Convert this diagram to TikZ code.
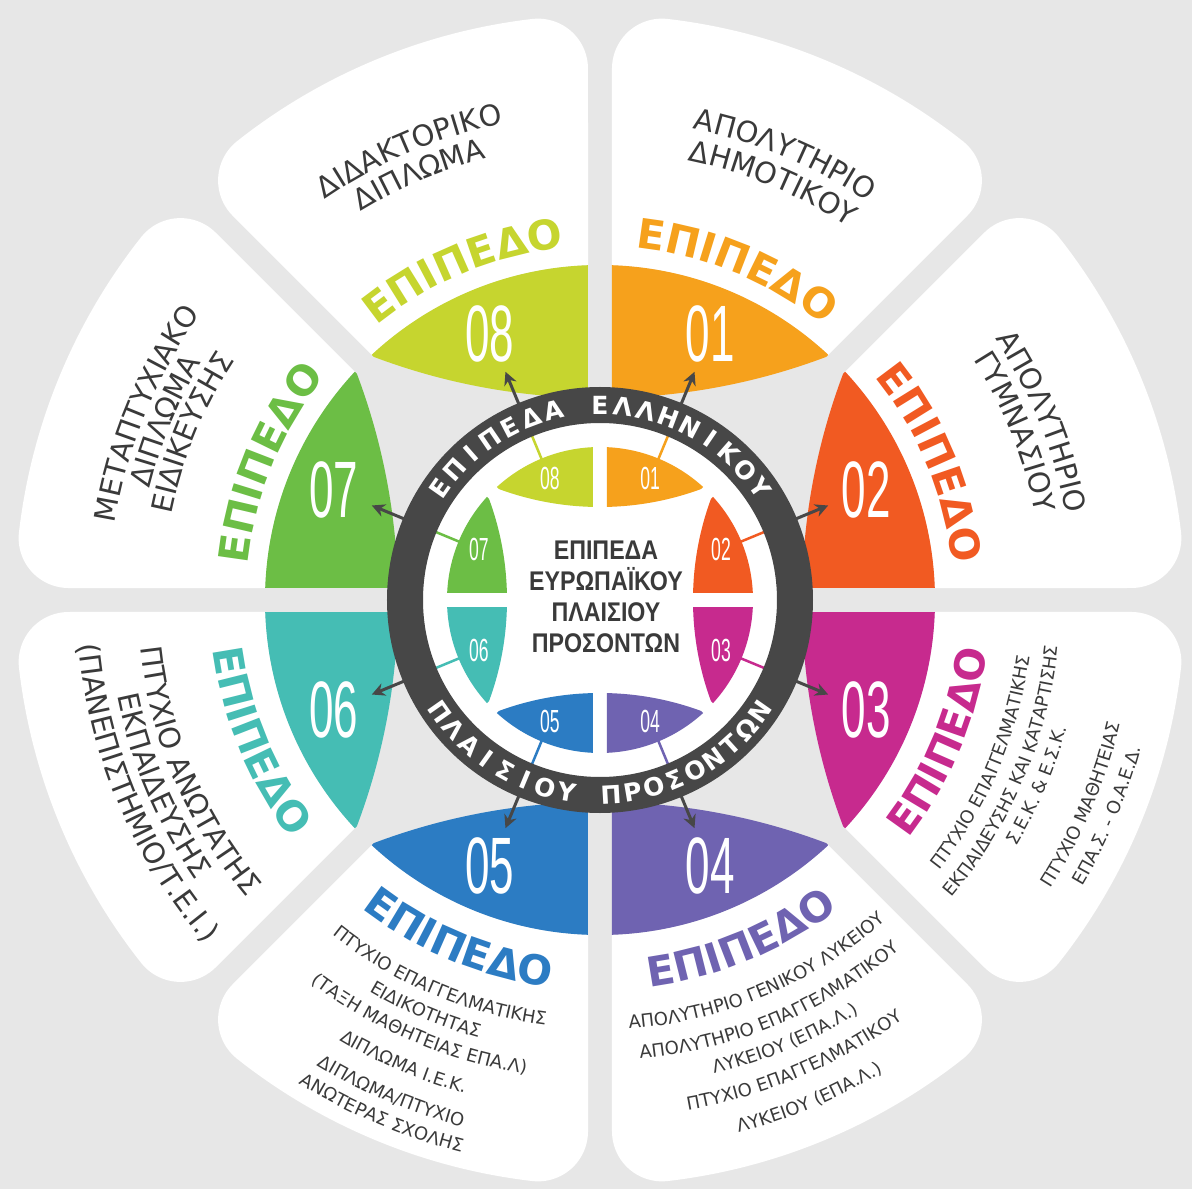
\documentclass[tikz,border=0pt]{standalone}
\usepackage{fontspec}
\setmainfont{DejaVu Sans}
\newfontfamily\numfont[FakeStretch=0.55]{Liberation Sans}
\newfontfamily\ctrfont[FakeStretch=0.86]{Liberation Sans}
\usetikzlibrary{calc,arrows.meta,decorations.text}

\definecolor{bg}{HTML}{E7E7E7}
\definecolor{ringc}{HTML}{474747}
\definecolor{desc}{HTML}{3A3A3A}
\definecolor{c01}{HTML}{F6A11C}
\definecolor{c02}{HTML}{F15A22}
\definecolor{c03}{HTML}{C72A8E}
\definecolor{c04}{HTML}{6F63B1}
\definecolor{c05}{HTML}{2C7CC3}
\definecolor{c06}{HTML}{45BDB4}
\definecolor{c07}{HTML}{6CBE45}
\definecolor{c08}{HTML}{C6D52F}

\newcommand{\descbig}{\fontsize{29}{29}\selectfont\color{desc}}
\newcommand{\descsmall}{\fontsize{18}{18}\selectfont\color{desc}}
\newcommand{\lvlfont}{\bfseries\fontsize{41}{41}\selectfont}

\newcommand{\toptext}[4]{%
  \path[decorate, decoration={text along path, text align=center,
    text={|#3|#4}}] ({#1+40}:#2) arc[start angle={#1+40}, end angle={#1-40}, radius=#2];}
\newcommand{\bottext}[4]{%
  \path[decorate, decoration={text along path, text align=center,
    text={|#3|#4}}] ({#1-40}:#2) arc[start angle={#1-40}, end angle={#1+40}, radius=#2];}

\tikzset{
  ringtxt/.style={text=white, inner sep=0, font=\bfseries\fontsize{25}{25}\selectfont},
  numbig/.style={text=white, inner sep=0, font=\numfont\fontsize{80}{80}\selectfont},
  numsmall/.style={text=white, inner sep=0, font=\numfont\fontsize{32}{32}\selectfont},
  arr/.style={draw=ringc, line width=3pt, -{Stealth[length=13pt,width=13pt]}},
  stub/.style={line width=2.5pt},
}

\begin{document}
\begin{tikzpicture}[x=1pt, y=1pt]
  \useasboundingbox (-600,-589) rectangle (592,600);
  \fill[bg] (-600,-589) rectangle (592,600);
  % white sectors and the big tabs
  \foreach \k/\col in {1/c01,2/c02,3/c03,4/c04,5/c05,6/c06,7/c07,8/c08} {
    \pgfmathsetmacro\ca{112.5-45*\k}
    \pgfmathsetmacro\tA{\ca-22.5}
    \pgfmathsetmacro\tB{\ca+22.5}
    \pgfmathsetmacro\ax{\ca+22.5*(2*mod(\k,2)-1)}
    \pgfmathsetmacro\phiA{\tA+asin(62/535)}
    \pgfmathsetmacro\psiB{\tB-asin(62/535)}
    \pgfmathsetmacro\sL{535*cos(asin(62/535))}
    \pgfmathsetmacro\inA{\tA+asin(12/335)}
    \pgfmathsetmacro\inB{\tB-asin(12/335)}
    \fill[white] (\inA:335) -- ($(\tA:\sL)+(\tA+90:12)$)
      arc[start angle=\tA-90, end angle=\phiA, radius=50]
      arc[start angle=\phiA, end angle=\psiB, radius=585]
      arc[start angle=\psiB, end angle=\tB+90, radius=50]
      -- (\inB:335) arc[start angle=\inB, end angle=\inA, radius=335] -- cycle;
    \begin{scope}
      \clip (\ca:{12/sin(22.5)}) -- ($(\tA:700)+(\tA+90:12)$) -- ($(\tB:700)+(\tB-90:12)$) -- cycle;
      \clip (\ax:842) circle (640);
      \fill[\col] (0,0) circle (335);
    \end{scope}
  }
  \fill[white] (0,0) circle (178);
  % small tabs, stubs and arrows
  \foreach \k/\col in {1/c01,2/c02,3/c03,4/c04,5/c05,6/c06,7/c07,8/c08} {
    \pgfmathsetmacro\ca{112.5-45*\k}
    \pgfmathsetmacro\ax{\ca+22.5*(2*mod(\k,2)-1)}
    \begin{scope}
      \clip (\ca:{7/sin(22.5)}) -- ($(\ca-22.5:200)+(\ca+67.5:7)$) -- ($(\ca+22.5:200)+(\ca-67.5:7)$) -- cycle;
      \clip (\ax:385) circle (292);
      \fill[\col] (0,0) circle (153);
    \end{scope}
    \coordinate (st-\k) at (\ca:140);
    \coordinate (rg-\k) at (\ca:186);
    \draw[stub, \col] (st-\k) -- (rg-\k);
    \coordinate (ra-\k) at (\ca:205);
    \coordinate (lv-\k) at (\ca:247);
    \draw[arr] (ra-\k) -- (lv-\k);
  }
  \draw[ringc, line width=36pt] (0,0) circle (195);
  \foreach \ch [count=\i] in {Ε,Π,Ι,Π,Ε,Δ,Α,{},Ε,Λ,Λ,Η,Ν,Ι,Κ,Ο,Υ} {
    \pgfmathsetmacro\ang{145-(\i-1)*110/16}
    \node[ringtxt, rotate=\ang-90] (rt-\i) at (\ang:195) {\ch};
  }
  \foreach \ch [count=\i] in {Π,Λ,Α,Ι,Σ,Ι,Ο,Υ,{},Π,Ρ,Ο,Σ,Ο,Ν,Τ,Ω,Ν} {
    \pgfmathsetmacro\ang{215+(\i-1)*110/17}
    \node[ringtxt, rotate=\ang+90] (rb-\i) at (\ang:195) {\ch};
  }
  \node[font=\ctrfont\bfseries\fontsize{27}{31}\selectfont, text=desc, align=center] (ctr) at (6,3)
    {ΕΠΙΠΕΔΑ\\ΕΥΡΩΠΑΪΚΟΥ\\ΠΛΑΙΣΙΟΥ\\ΠΡΟΣΟΝΤΩΝ};
  \foreach \k in {1,...,8} {
    \pgfmathsetmacro\ca{112.5-45*\k}
    \node[numbig] (nb-\k) at (\ca:288) {0\k};
    \node[numsmall] (ns-\k) at (\ca:131) {0\k};
  }
  % level labels
  \toptext{67.5}{354}{\lvlfont\color{c01}}{ΕΠΙΠΕΔΟ}
  \toptext{22.5}{354}{\lvlfont\color{c02}}{ΕΠΙΠΕΔΟ}
  \bottext{-22.5}{390}{\lvlfont\color{c03}}{ΕΠΙΠΕΔΟ}
  \bottext{-67.5}{390}{\lvlfont\color{c04}}{ΕΠΙΠΕΔΟ}
  \bottext{-112.5}{390}{\lvlfont\color{c05}}{ΕΠΙΠΕΔΟ}
  \bottext{-157.5}{390}{\lvlfont\color{c06}}{ΕΠΙΠΕΔΟ}
  \toptext{157.5}{354}{\lvlfont\color{c07}}{ΕΠΙΠΕΔΟ}
  \toptext{112.5}{354}{\lvlfont\color{c08}}{ΕΠΙΠΕΔΟ}
  % qualifications
  \toptext{67.5}{480}{\descbig}{ΑΠΟΛΥΤΗΡΙΟ}
  \toptext{67.5}{448}{\descbig}{ΔΗΜΟΤΙΚΟΥ}
  \toptext{22}{474}{\descbig}{ΑΠΟΛΥΤΗΡΙΟ}
  \toptext{22}{444}{\descbig}{ΓΥΜΝΑΣΙΟΥ}
  \bottext{337}{433.5}{\descsmall}{ΠΤΥΧΙΟ ΕΠΑΓΓΕΛΜΑΤΙΚΗΣ}
  \bottext{337}{460.5}{\descsmall}{ΕΚΠΑΙΔΕΥΣΗΣ ΚΑΙ ΚΑΤΑΡΤΙΣΗΣ}
  \bottext{337}{484}{\descsmall}{Σ.Ε.Κ. {\&} Ε.Σ.Κ.}
  \bottext{337}{535}{\descsmall}{ΠΤΥΧΙΟ ΜΑΘΗΤΕΙΑΣ}
  \bottext{337}{561}{\descsmall}{ΕΠΑ.Σ. - Ο.Α.Ε.Δ.}
  \bottext{292.8}{429.5}{\descsmall}{ΑΠΟΛΥΤΗΡΙΟ ΓΕΝΙΚΟΥ ΛΥΚΕΙΟΥ}
  \bottext{292.8}{460.5}{\descsmall}{ΑΠΟΛΥΤΗΡΙΟ ΕΠΑΓΓΕΛΜΑΤΙΚΟΥ}
  \bottext{292.8}{487.5}{\descsmall}{ΛΥΚΕΙΟΥ (ΕΠΑ.Λ.)}
  \bottext{292.8}{517.5}{\descsmall}{ΠΤΥΧΙΟ ΕΠΑΓΓΕΛΜΑΤΙΚΟΥ}
  \bottext{292.8}{550.5}{\descsmall}{ΛΥΚΕΙΟΥ (ΕΠΑ.Λ.)}
  \bottext{247}{428.5}{\descsmall}{ΠΤΥΧΙΟ ΕΠΑΓΓΕΛΜΑΤΙΚΗΣ}
  \bottext{247}{454.5}{\descsmall}{ΕΙΔΙΚΟΤΗΤΑΣ}
  \bottext{247}{479.5}{\descsmall}{(ΤΑΞΗ ΜΑΘΗΤΕΙΑΣ ΕΠΑ.Λ)}
  \bottext{247}{511.5}{\descsmall}{ΔΙΠΛΩΜΑ Ι.Ε.Κ.}
  \bottext{247}{544.5}{\descsmall}{ΔΙΠΛΩΜΑ/ΠΤΥΧΙΟ}
  \bottext{247}{569.5}{\descsmall}{ΑΝΩΤΕΡΑΣ ΣΧΟΛΗΣ}
  \bottext{203}{462}{\descbig}{ΠΤΥΧΙΟ ΑΝΩΤΑΤΗΣ}
  \bottext{203}{492}{\descbig}{ΕΚΠΑΙΔΕΥΣΗΣ}
  \bottext{203}{523}{\descbig}{(ΠΑΝΕΠΙΣΤΗΜΙΟ/Τ.Ε.Ι.)}
  \toptext{157.7}{491}{\descbig}{ΜΕΤΑΠΤΥΧΙΑΚΟ}
  \toptext{157.7}{464}{\descbig}{ΔΙΠΛΩΜΑ}
  \toptext{157.7}{437}{\descbig}{ΕΙΔΙΚΕΥΣΗΣ}
  \toptext{113}{486}{\descbig}{ΔΙΔΑΚΤΟΡΙΚΟ}
  \toptext{113}{456}{\descbig}{ΔΙΠΛΩΜΑ}
\end{tikzpicture}
\end{document}
